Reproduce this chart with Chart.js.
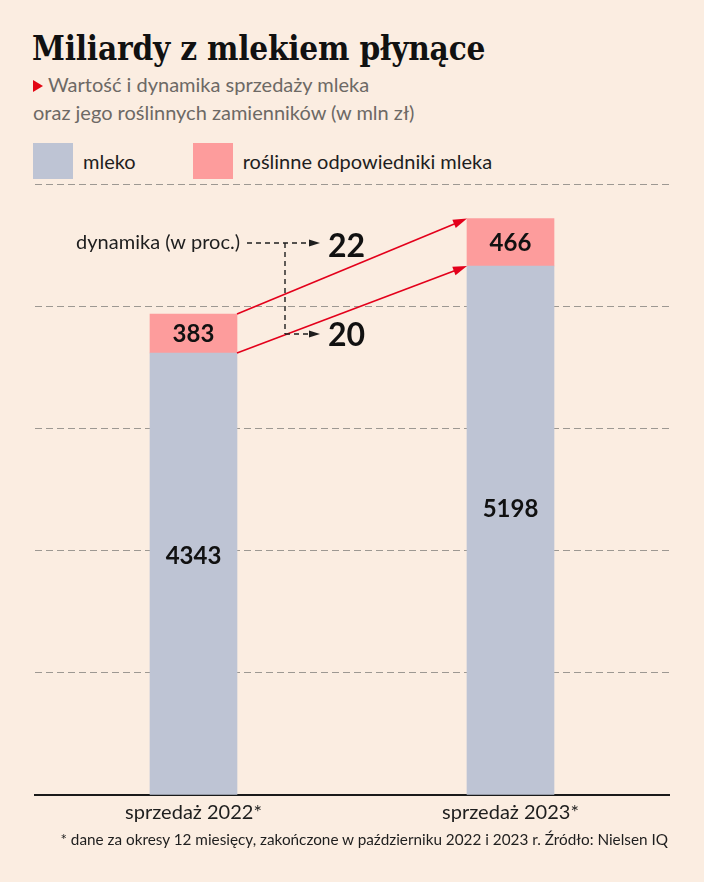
<!DOCTYPE html>
<html lang="pl">
<head>
<meta charset="utf-8">
<title>Miliardy z mlekiem płynące</title>
<script src="https://cdn.jsdelivr.net/npm/chart.js@4.4.0/dist/chart.umd.min.js"></script>
<style>
  html, body { margin: 0; padding: 0; }
  body { width: 704px; height: 882px; background: #fbede1; position: relative; overflow: hidden; font-family: Lato, sans-serif; color: #1e1e1e; }
  h1 { position: absolute; left: 32px; top: 32px; margin: 0; font: bold 33px/1 "DejaVu Serif Condensed", "DejaVu Serif", serif; letter-spacing: -0.2px; color: #111; white-space: nowrap; }
  .sub { position: absolute; left: 33px; top: 70px; font-size: 20px; line-height: 28px; color: #6d6965; white-space: nowrap; }
  .sub .tri { display: inline-block; width: 0; height: 0; border-left: 10px solid #e30613; border-top: 6px solid transparent; border-bottom: 6px solid transparent; margin-right: 5px; }
  #legend { position: absolute; left: 33px; top: 143px; display: flex; gap: 57px; font-size: 20px; color: #1e1e1e; }
  #legend .item { display: flex; align-items: center; }
  #legend .sw { width: 40px; height: 36px; margin-right: 10px; }
  #wrap { position: absolute; left: 0; top: 170px; width: 704px; height: 712px; }
  .note { position: absolute; right: 36px; top: 830px; font-size: 15.3px; line-height: 18px; color: #1e1e1e; white-space: nowrap; }
</style>
</head>
<body>
<h1>Miliardy z mlekiem płynące</h1>
<div class="sub"><span class="tri"></span>Wartość i dynamika sprzedaży mleka<br>oraz jego roślinnych zamienników (w mln zł)</div>
<div id="legend"></div>
<div id="wrap"><canvas id="chart"></canvas></div>
<div class="note">* dane za okresy 12 miesięcy, zakończone w październiku 2022 i 2023 r. Źródło: Nielsen IQ</div>

<script>
// dane (w mln zł)
var categories = ["sprzedaż 2022*", "sprzedaż 2023*"];
var milk = [4343, 5198];
var plantBased = [383, 466];
var yTicks = [0, 1200, 2400, 3600, 4800, 6000];

var GRAY = "#bec4d4";
var PINK = "#fd9c9c";
var RED = "#e3001b";

// dynamika r/r w proc.
function growth(arr) {
    return Math.round((arr[1] / arr[0] - 1) * 100);
}

function arrow(ctx, x1, y1, x2, y2, color, width, headLen, headHalf, dash) {
    var ang = Math.atan2(y2 - y1, x2 - x1);
    ctx.save();
    ctx.strokeStyle = color;
    ctx.fillStyle = color;
    ctx.lineWidth = width;
    ctx.setLineDash(dash);
    ctx.beginPath();
    ctx.moveTo(x1, y1);
    ctx.lineTo(x2 - Math.cos(ang) * headLen * 0.8, y2 - Math.sin(ang) * headLen * 0.8);
    ctx.stroke();
    ctx.setLineDash([]);
    ctx.translate(x2, y2);
    ctx.rotate(ang);
    ctx.beginPath();
    ctx.moveTo(0, 0);
    ctx.lineTo(-headLen, -headHalf);
    ctx.lineTo(-headLen, headHalf);
    ctx.closePath();
    ctx.fill();
    ctx.restore();
}

// wartosci w slupkach
var barValues = {
    id: "barValues",
    afterDatasetsDraw: function (chart) {
        var ctx = chart.ctx;
        ctx.save();
        ctx.font = "bold 24px Lato";
        ctx.fillStyle = "#111";
        ctx.textAlign = "center";
        ctx.textBaseline = "middle";
        chart.data.datasets.forEach(function (ds, di) {
            chart.getDatasetMeta(di).data.forEach(function (bar, i) {
                var h = bar.base - bar.y;
                var y = di === 0 ? bar.base - h * 0.54 : bar.y + h / 2 + 1;
                ctx.fillText(String(ds.data[i]), bar.x, y);
            });
        });
        ctx.restore();
    }
};

// strzalki i dynamika
var dynamics = {
    id: "dynamics",
    afterDatasetsDraw: function (chart) {
        var ctx = chart.ctx;
        var m = chart.getDatasetMeta(0).data;
        var p = chart.getDatasetMeta(1).data;

        arrow(ctx, p[0].x + p[0].width / 2, p[0].y, p[1].x - p[1].width / 2, p[1].y, RED, 1.6, 14, 4.5, []);
        arrow(ctx, m[0].x + m[0].width / 2, m[0].y, m[1].x - m[1].width / 2, m[1].y, RED, 1.6, 14, 4.5, []);

        var yTop = 73, yBot = 164, xText = 240, xSplit = 285, xTip = 320;
        ctx.save();
        ctx.fillStyle = "#1e1e1e";
        ctx.font = "20px Lato";
        ctx.textAlign = "right";
        ctx.textBaseline = "middle";
        ctx.fillText("dynamika (w proc.)", xText, yTop);
        ctx.strokeStyle = "#1e1e1e";
        ctx.lineWidth = 1.4;
        ctx.setLineDash([5, 4]);
        ctx.beginPath();
        ctx.moveTo(xSplit, yTop);
        ctx.lineTo(xSplit, yBot);
        ctx.stroke();
        ctx.restore();
        arrow(ctx, xText + 7, yTop, xTip, yTop, "#1e1e1e", 1.4, 11, 3.5, [5, 4]);
        arrow(ctx, xSplit, yBot, xTip, yBot, "#1e1e1e", 1.4, 11, 3.5, [5, 4]);

        ctx.save();
        ctx.fillStyle = "#111";
        ctx.font = "bold 32px Lato";
        ctx.textAlign = "left";
        ctx.textBaseline = "middle";
        ctx.fillText(String(growth(plantBased)), 328, yTop + 4);
        ctx.fillText(String(growth(milk)), 328, yBot + 2);
        ctx.restore();
    }
};

var chart = new Chart(document.getElementById("chart").getContext("2d"), {
    type: "bar",
    data: {
        labels: categories,
        datasets: [{
                label: "mleko",
                data: milk,
                backgroundColor: GRAY
            },
            {
                label: "roślinne odpowiedniki mleka",
                data: plantBased,
                backgroundColor: PINK
            }
        ]
    },
    options: {
        responsive: true,
        maintainAspectRatio: false,
        animation: false,
        layout: {
            padding: { left: 35, right: 35, top: 14.4, bottom: 51 }
        },
        datasets: {
            bar: { barThickness: 87 }
        },
        plugins: {
            legend: { display: false },
            tooltip: { enabled: false }
        },
        scales: {
            x: {
                stacked: true,
                z: 1,
                grid: { display: false, drawTicks: false },
                border: { display: true, color: "#1a1a1a", width: 2 },
                ticks: {
                    color: "#1e1e1e",
                    padding: 6,
                    font: { family: "Lato", size: 20 }
                }
            },
            y: {
                stacked: true,
                min: yTicks[0],
                max: yTicks[yTicks.length - 1],
                afterBuildTicks: function (scale) {
                    scale.ticks = yTicks.map(function (v) { return { value: v }; });
                },
                grid: { color: "#9d9892", lineWidth: 1, drawTicks: false },
                border: { display: false, dash: [7, 4] },
                ticks: { display: false }
            }
        }
    },
    plugins: [barValues, dynamics]
});

// legenda
var legend = document.getElementById("legend");
chart.data.datasets.forEach(function (ds) {
    var item = document.createElement("div");
    item.className = "item";
    var sw = document.createElement("span");
    sw.className = "sw";
    sw.style.background = ds.backgroundColor;
    item.appendChild(sw);
    item.appendChild(document.createTextNode(ds.label));
    legend.appendChild(item);
});
</script>
</body>
</html>
